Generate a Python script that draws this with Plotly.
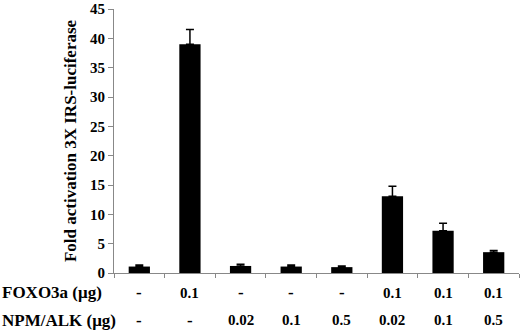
import plotly.graph_objects as go

categories = ["c1", "c2", "c3", "c4", "c5", "c6", "c7", "c8"]
values = [1.1, 39.0, 1.2, 1.1, 1.0, 13.1, 7.2, 3.55]
errors = [0.25, 2.5, 0.3, 0.25, 0.2, 1.7, 1.3, 0.3]
foxo3a = ["-", "0.1", "-", "-", "-", "0.1", "0.1", "0.1"]
npm_alk = ["-", "-", "0.02", "0.1", "0.5", "0.02", "0.1", "0.5"]
row_labels = ["FOXO3a (μg)", "NPM/ALK (μg)"]
y_ticks = [0, 5, 10, 15, 20, 25, 30, 35, 40, 45]

FONT = "Liberation Serif"
W, H = 520, 331
ml, mr, mt, mb = 114, 1, 4, 58
ph = H - mt - mb
pw = W - ml - mr

fig = go.Figure()
fig.add_trace(go.Bar(
    x=categories, y=values,
    marker=dict(color="black", line=dict(width=0)),
    error_y=dict(type="data", symmetric=False, array=errors,
                 arrayminus=[0] * len(errors), color="black",
                 thickness=1.5, width=4),
))

ann = []
def py_to_paper(py):
    return (H - mb - py) / ph

for row, (label, vals) in enumerate(zip(row_labels, [foxo3a, npm_alk])):
    ypix = 293 if row == 0 else 321
    ann.append(dict(text="<b>%s</b>" % label, x=-ml / pw, xref="paper",
                    y=py_to_paper(ypix), yref="paper", xanchor="left",
                    yanchor="middle", showarrow=False,
                    font=dict(family=FONT, size=17, color="black")))
    for c, v in zip(categories, vals):
        is_dash = v == "-"
        ann.append(dict(text="<b>%s</b>" % v, x=c, xref="x",
                        y=py_to_paper(ypix), yref="paper",
                        xanchor="center", yanchor="middle", showarrow=False,
                        font=dict(family=FONT, size=17 if is_dash else 15,
                                  color="black")))

fig.update_layout(
    width=W, height=H,
    margin=dict(l=ml, r=mr, t=mt, b=mb, pad=0),
    plot_bgcolor="white", paper_bgcolor="white",
    showlegend=False, bargap=0.58,
    annotations=ann,
    xaxis=dict(showticklabels=False, ticks="outside", tickson="boundaries",
               ticklen=4, tickcolor="#888", showline=True, linecolor="#888",
               linewidth=1, showgrid=False, range=[-0.5, 7.5], zeroline=False),
    yaxis=dict(range=[0, 45], tickvals=y_ticks,
               ticktext=["<b>%d</b>" % t for t in y_ticks],
               ticks="outside", ticklen=5,
               tickcolor="#888", showline=True, linecolor="#888", linewidth=1,
               showgrid=False, zeroline=False, ticklabeloverflow="allow",
               tickfont=dict(family=FONT, size=15, color="black"),
               title=dict(text="<b>Fold activation 3X IRS-luciferase</b>",
                          font=dict(family=FONT, size=17, color="black"),
                          standoff=9)),
)

fig.write_html("out.html", config={"displayModeBar": False},
               post_script="document.body.style.margin='0';")
